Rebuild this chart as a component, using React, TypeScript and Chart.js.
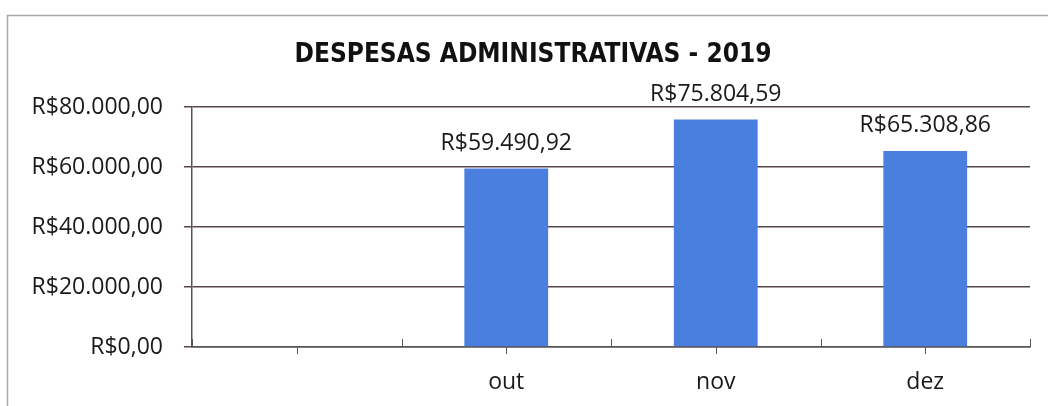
import React, { useEffect, useRef } from "react";
import { Chart, registerables } from "chart.js";

Chart.register(...registerables);

const TITLE = "DESPESAS ADMINISTRATIVAS - 2019";
const categories = ["", "out", "nov", "dez"];
const despesas = [null, 59490.92, 75804.59, 65308.86];
const yTicks = [0, 20000, 40000, 60000, 80000];

const TEXT_FONT = "'Open Sans', 'Noto Sans', sans-serif";
const TITLE_FONT = "'Liberation Sans Narrow', 'DejaVu Sans Condensed', 'Open Sans', sans-serif";

function brl(v: number): string {
  const [i, d] = Math.abs(v).toFixed(2).split(".");
  const s = i.replace(/\B(?=(\d{3})+(?!\d))/g, ".");
  return "R$" + s + "," + d;
}

const framePlugin = {
  id: "frame",
  beforeDraw(chart: any) {
    const ctx = chart.ctx;
    ctx.save();
    ctx.fillStyle = "#ffffff";
    ctx.fillRect(0, 0, chart.width, chart.height);
    ctx.strokeStyle = "#a8a8a8";
    ctx.lineWidth = 1.5;
    ctx.beginPath();
    ctx.moveTo(7.5, chart.height + 2);
    ctx.lineTo(7.5, 15.5);
    ctx.lineTo(chart.width + 2, 15.5);
    ctx.stroke();
    // title
    ctx.fillStyle = "#111111";
    ctx.font = `bold 26px ${TITLE_FONT}`;
    ctx.textAlign = "center";
    ctx.textBaseline = "alphabetic";
    ctx.fillText(TITLE, chart.width / 2 + 9, 62);
    ctx.restore();
  },
};

const ticksPlugin = {
  id: "xticks",
  afterDraw(chart: any) {
    const x = chart.scales.x;
    const ctx = chart.ctx;
    const b = x.top;
    ctx.save();
    ctx.strokeStyle = "#555555";
    ctx.lineWidth = 1;
    for (let i = 0; i <= categories.length; i++) {
      const px = Math.round(x.getPixelForValue(i - 0.5)) + 0.5;
      ctx.beginPath();
      ctx.moveTo(px, b - 8);
      ctx.lineTo(px, b);
      ctx.stroke();
    }
    for (let i = 0; i < categories.length; i++) {
      const px = Math.round(x.getPixelForValue(i)) + 0.5;
      ctx.beginPath();
      ctx.moveTo(px, b);
      ctx.lineTo(px, b + 7);
      ctx.stroke();
    }
    ctx.restore();
  },
};

const labelPlugin = {
  id: "barLabels",
  afterDatasetsDraw(chart: any) {
    const ctx = chart.ctx;
    const meta = chart.getDatasetMeta(0);
    ctx.save();
    ctx.font = `23px ${TEXT_FONT}`;
    ctx.fillStyle = "#1a1a1a";
    ctx.textAlign = "center";
    ctx.textBaseline = "alphabetic";
    meta.data.forEach((bar: any, i: number) => {
      const v = despesas[i];
      if (v == null) return;
      ctx.fillText(brl(v), bar.x, bar.y - 19);
    });
    ctx.restore();
  },
};

export default function App() {
  const ref = useRef<HTMLCanvasElement | null>(null);

  useEffect(() => {
    document.body.style.margin = "0";
    const canvas = ref.current!;
    const chart = new Chart(canvas, {
      type: "bar",
      data: {
        labels: categories,
        datasets: [
          {
            data: despesas as any,
            backgroundColor: "#4a7fe0",
            borderWidth: 0,
            categoryPercentage: 1,
            barPercentage: 0.4,
          },
        ],
      },
      options: {
        responsive: false,
        animation: false,
        layout: { padding: { top: 107, right: 18, bottom: 0, left: 0 } },
        plugins: {
          legend: { display: false },
          tooltip: { enabled: false },
          title: { display: false },
        },
        scales: {
          x: {
            offset: true,
            grid: { display: false, offset: true },
            border: { display: true, color: "#555555", width: 1.5 },
            ticks: {
              color: "#1a1a1a",
              font: { family: TEXT_FONT, size: 23 },
              padding: 14,
            },
            afterFit(scale: any) {
              scale.height = 59;
            },
          },
          y: {
            min: 0,
            max: 80000,
            afterBuildTicks(scale: any) {
              scale.ticks = yTicks.map((v) => ({ value: v }));
            },
            grid: {
              color: "#584646",
              lineWidth: 1.5,
              tickLength: 8,
              drawTicks: true,
            },
            border: { display: true, color: "#555555", width: 1.5 },
            ticks: {
              color: "#1a1a1a",
              font: { family: TEXT_FONT, size: 23 },
              padding: 21,
              callback: (v: any) => brl(Number(v)),
            },
            afterFit(scale: any) {
              scale.width = 192;
            },
          },
        },
      },
      plugins: [framePlugin, ticksPlugin, labelPlugin],
    });
    return () => chart.destroy();
  }, []);

  return (
    <div style={{ width: 1048, height: 406 }}>
      <canvas ref={ref} width={1048} height={406} style={{ display: "block" }} />
    </div>
  );
}
